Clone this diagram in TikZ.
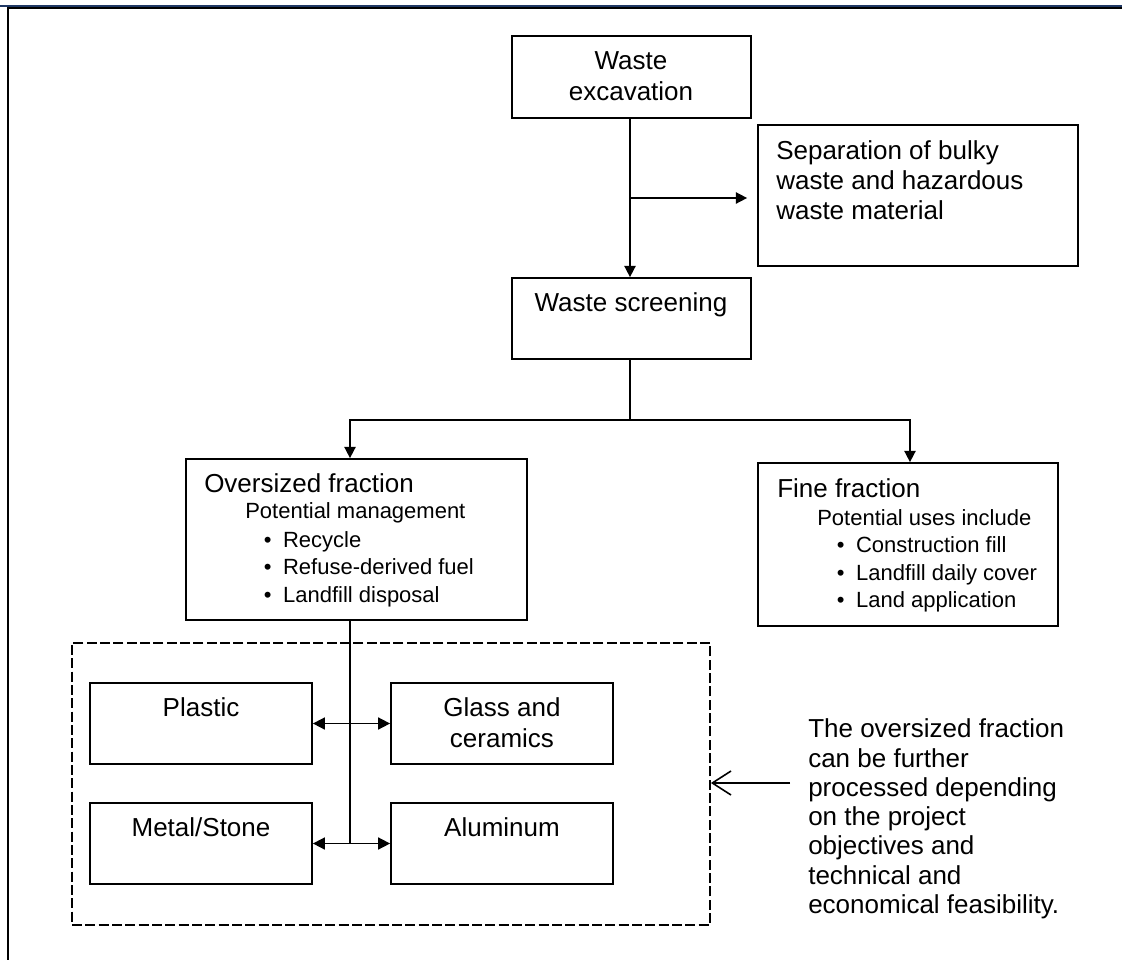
\documentclass[tikz,border=0pt]{standalone}
\usepackage{fontspec}
\setmainfont{Liberation Sans}
\usetikzlibrary{arrows.meta,fit}
\definecolor{navy}{HTML}{1F3864}
\begin{document}
\begin{tikzpicture}[x=0.75pt,y=-0.75pt,
  boxst/.style={draw, line width=1.3pt, inner sep=0pt},
  dbox/.style={draw, line width=1.3pt, inner sep=0pt, dash pattern=on 7.5pt off 2.5pt},
  tb/.style={font=\fontsize{19.5}{22.5}\selectfont, inner sep=0pt},
  ts/.style={font=\fontsize{16.5}{20}\selectfont, inner sep=0pt},
  conn/.style={line width=1.2pt},
  arr/.style={conn, -{Triangle[length=8.5pt,width=8.5pt]}},
  darr/.style={conn, {Triangle[length=9pt,width=9pt]}-{Triangle[length=9pt,width=9pt]}},
  oarr/.style={line width=1.2pt, -{Straight Barb[length=14pt,width=18pt,line width=1.2pt]}}
]
\useasboundingbox (0,0) rectangle (1122,960);
% page rules
\fill[navy] (0,4.6) rectangle (1122,7.3);
\fill[black] (7,7.3) rectangle (1122,9);
\fill[black] (7,7.3) rectangle (9,960);

% boxes
\node[boxst, fit={(512,36)(751,118)}] (exc) {};
\node[boxst, fit={(758,125)(1078,266)}] (sep) {};
\node[boxst, fit={(512,278)(751,359)}] (scr) {};
\node[boxst, fit={(186,459)(527,620)}] (ov) {};
\node[boxst, fit={(758,463)(1058,626)}] (fine) {};
\node[dbox, fit={(72,643)(710,925)}] (dash) {};
\node[boxst, fit={(90,683)(312,764)}] (pl) {};
\node[boxst, fit={(391,683)(613,764)}] (gl) {};
\node[boxst, fit={(90,803)(312,884)}] (me) {};
\node[boxst, fit={(391,803)(613,884)}] (al) {};

% texts
\node[tb, anchor=base] (exc1) at (631,69) {Waste};
\node[tb, anchor=base] (exc2) at (631,100) {excavation};
\node[tb, anchor=base west] (sep1) at (776,159) {Separation of bulky};
\node[tb, anchor=base west] (sep2) at (776,189) {waste and hazardous};
\node[tb, anchor=base west] (sep3) at (776,219) {waste material};
\node[tb, anchor=base] (scr1) at (631,311) {Waste screening};

\node[tb, anchor=base west] (ov1) at (204,492) {Oversized fraction};
\node[ts, anchor=base west] (ov2) at (245,518) {Potential management};
\node[ts, anchor=base west] (ov3) at (263.5,547) {\makebox[14.5pt][l]{\textbullet}Recycle};
\node[ts, anchor=base west] (ov4) at (263.5,574.5) {\makebox[14.5pt][l]{\textbullet}Refuse-derived fuel};
\node[ts, anchor=base west] (ov5) at (263.5,602) {\makebox[14.5pt][l]{\textbullet}Landfill disposal};

\node[tb, anchor=base west] (fi1) at (777,497) {Fine fraction};
\node[ts, anchor=base west] (fi2) at (817,525) {Potential uses include};
\node[ts, anchor=base west] (fi3) at (836.5,552) {\makebox[14.5pt][l]{\textbullet}Construction fill};
\node[ts, anchor=base west] (fi4) at (836.5,580) {\makebox[14.5pt][l]{\textbullet}Landfill daily cover};
\node[ts, anchor=base west] (fi5) at (836.5,607) {\makebox[14.5pt][l]{\textbullet}Land application};

\node[tb, anchor=base] (plt) at (201,716) {Plastic};
\node[tb, anchor=base] (glt1) at (502,716) {Glass and};
\node[tb, anchor=base] (glt2) at (502,747) {ceramics};
\node[tb, anchor=base] (met) at (201,836) {Metal/Stone};
\node[tb, anchor=base] (alt) at (502,836) {Aluminum};

\node[tb, anchor=base west] (n1) at (808,737.7) {The oversized fraction};
\node[tb, anchor=base west] (n2) at (808,767) {can be further};
\node[tb, anchor=base west] (n3) at (808,796.3) {processed depending};
\node[tb, anchor=base west] (n4) at (808,825.6) {on the project};
\node[tb, anchor=base west] (n5) at (808,854.9) {objectives and};
\node[tb, anchor=base west] (n6) at (808,884.2) {technical and};
\node[tb, anchor=base west] (n7) at (808,913.5) {economical feasibility.};

% connectors
\coordinate (top) at (630,118);
\coordinate (br) at (630,198);
\coordinate (j) at (630,420);
\coordinate (jl) at (350,420);
\coordinate (jr) at (910,420);
\coordinate (vb) at (350,843);
\coordinate (na) at (790,783);

\draw[arr] (top) -- (top |- scr.north);
\draw[arr, shorten >=7.5pt] (br) -- (br -| sep.west);
\draw[conn] (j |- scr.south) -- (j);
\draw[arr] (j) -| (jl |- ov.north);
\draw[arr] (j) -| (jr |- fine.north);
\draw[conn] (vb |- ov.south) -- (vb);
\draw[darr] (pl.east) -- (gl.west);
\draw[darr] (me.east) -- (al.west);
\draw[oarr] (na) -- (na -| dash.east);
\end{tikzpicture}
\end{document}
